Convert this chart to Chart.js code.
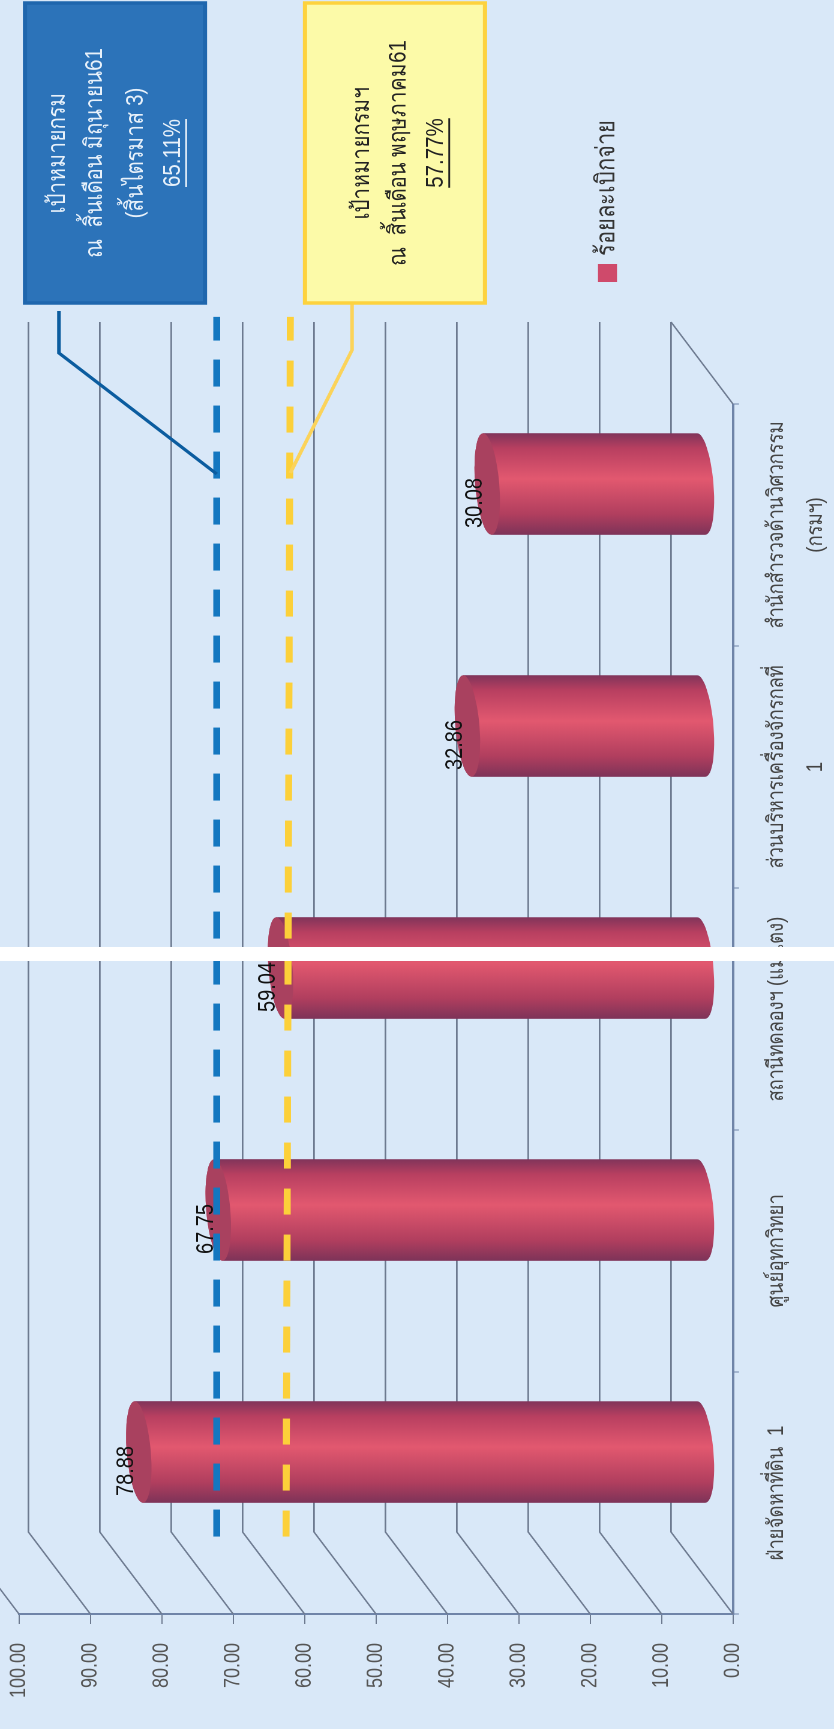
<!DOCTYPE html>
<html>
<head>
<meta charset="utf-8">
<title>ร้อยละเบิกจ่าย</title>
<script src="https://cdn.jsdelivr.net/npm/chart.js@4/dist/chart.umd.min.js"></script>
<style>
  html, body { margin: 0; padding: 0; background: #d9e8f8; }
  body { position: relative; width: 834px; height: 1729px; overflow: hidden; }
  /* the sheet was scanned on its side and a bit stretched, so the whole chart is turned */
  #turned { position: absolute; left: 0; top: 0; width: 1729px; height: 695px;
            transform-origin: 0 0; transform: translate(0, 1729px) rotate(-90deg) scale(1, 1.2); }
  #scanGap { position: absolute; left: 0; top: 947px; width: 834px; height: 14px; background: #fff; }
</style>
</head>
<body>
<div id="turned"><canvas id="budgetChart" width="1729" height="695"></canvas></div>
<div id="scanGap"></div>
<script>
const categories = [
  "ฝ่ายจัดหาที่ดิน  1",
  "ศูนย์อุทกวิทยา",
  "สถานีทดลองฯ (แม่แตง)",
  ["ส่วนบริหารเครื่องจักรกลที่", "1"],
  ["สำนักสำรวจด้านวิศวกรรม", "(กรมฯ)"],
]
const disbursed = [78.88, 67.75, 59.04, 32.86, 30.08]
const seriesName = "ร้อยละเบิกจ่าย"

// target lines were laid by hand on the sheet, so they sit above their stated numbers
const blueTarget = [{ x: 0.32, y: 72.3 }, { x: 5.36, y: 72.3 }]
const yellowTarget = [{ x: 0.32, y: 62.6 }, { x: 5.36, y: 62.0 }]
const blueBoxLines = ["เป้าหมายกรม", "ณ  สิ้นเดือน มิถุนายน61", "(สิ้นไตรมาส 3)", "65.11%"]
const yellowBoxLines = ["เป้าหมายกรมฯ", "ณ  สิ้นเดือน พฤษภาคม61", "57.77%"]

const FONT = "'Liberation Sans', 'Noto Sans', sans-serif"
const STRETCH = 1.2
const DEPTH_X = 82
const DEPTH_Y = -62 / STRETCH

// page-space distance across the chart -> canvas distance
const sy = (v) => v / STRETCH

function drawBox(ctx, x, y, w, h, fill, stroke, lines, lineYs, color) {
  ctx.fillStyle = fill
  ctx.strokeStyle = stroke
  ctx.lineWidth = 3.5
  ctx.fillRect(x, sy(y), w, sy(h))
  ctx.strokeRect(x, sy(y), w, sy(h))
  ctx.fillStyle = color
  ctx.font = "20.5px " + FONT
  ctx.textAlign = "center"
  ctx.textBaseline = "middle"
  lines.forEach((line, i) => {
    ctx.fillText(line, x + w / 2, sy(lineYs[i]))
  })
  // last line (the percentage) is underlined
  const last = lines[lines.length - 1]
  const half = ctx.measureText(last).width / 2
  const uy = sy(lineYs[lines.length - 1]) + 11
  ctx.strokeStyle = color
  ctx.lineWidth = 1.5
  ctx.beginPath()
  ctx.moveTo(x + w / 2 - half, uy)
  ctx.lineTo(x + w / 2 + half, uy)
  ctx.stroke()
}

function polyline(ctx, pts, color, width) {
  ctx.strokeStyle = color
  ctx.lineWidth = width
  ctx.beginPath()
  pts.forEach((p, i) => (i ? ctx.lineTo(p[0], p[1]) : ctx.moveTo(p[0], p[1])))
  ctx.stroke()
}

const wallPlugin = {
  id: "wall",
  // diagonal floor lines and back wall grid
  beforeDatasetsDraw(chart) {
    const { ctx, scales } = chart
    const left = scales.x.left
    const right = scales.x.right
    ctx.save()
    ctx.strokeStyle = "#6d7a90"
    ctx.lineWidth = 1.3
    scales.y.ticks.forEach((t) => {
      const py = scales.y.getPixelForValue(t.value)
      ctx.beginPath()
      ctx.moveTo(left, py)
      ctx.lineTo(left + DEPTH_X, py + DEPTH_Y)
      ctx.lineTo(right + DEPTH_X, py + DEPTH_Y)
      ctx.stroke()
    })
    ctx.beginPath()
    ctx.moveTo(right, scales.y.getPixelForValue(0))
    ctx.lineTo(right + DEPTH_X, scales.y.getPixelForValue(0) + DEPTH_Y)
    ctx.stroke()

    // cylinders, placed from the bar elements
    chart.getDatasetMeta(0).data.forEach((bar) => {
      const cx = bar.x + DEPTH_X / 2
      const top = bar.y + DEPTH_Y / 2
      const base = bar.base + DEPTH_Y / 2
      const rx = bar.width / 2
      const ry = sy(12)
      const tilt = -0.07
      const lean = sy(4)

      const body = ctx.createLinearGradient(cx - rx, 0, cx + rx, 0)
      body.addColorStop(0, "#7d3358")
      body.addColorStop(0.2, "#b03e5e")
      body.addColorStop(0.55, "#e2586f")
      body.addColorStop(0.85, "#b83f60")
      body.addColorStop(1, "#80345a")
      ctx.fillStyle = body
      ctx.beginPath()
      ctx.moveTo(cx - rx, top + lean)
      ctx.lineTo(cx - rx, base + lean)
      ctx.ellipse(cx, base, rx, ry, tilt, Math.PI, 0, true)
      ctx.lineTo(cx + rx, top - lean)
      ctx.ellipse(cx, top, rx, ry, tilt, 0, Math.PI, true)
      ctx.closePath()
      ctx.fill()

      ctx.fillStyle = "#a9415f"
      ctx.beginPath()
      ctx.ellipse(cx, top, rx, ry, tilt, 0, Math.PI * 2)
      ctx.fill()
    })
    ctx.restore()
  },
  afterDatasetsDraw(chart) {
    const { ctx, scales } = chart
    ctx.save()
    // value labels
    ctx.fillStyle = "#111"
    ctx.font = "20px " + FONT
    ctx.textAlign = "center"
    ctx.textBaseline = "middle"
    chart.getDatasetMeta(0).data.forEach((bar, i) => {
      ctx.fillText(disbursed[i].toFixed(2), bar.x + DEPTH_X / 2 - 19, bar.y + DEPTH_Y / 2 - sy(12))
    })

    // leaders from the note boxes down to the target lines
    const blueY = scales.y.getPixelForValue(blueTarget[0].y)
    const yellowY = scales.y.getPixelForValue(yellowTarget[1].y)
    polyline(ctx, [[1418, sy(59)], [1376, sy(59)], [1255, blueY]], "#0b5c9f", 3)
    polyline(ctx, [[1425, sy(352)], [1379, sy(352)], [1256, yellowY]], "#fbd35a", 3)

    drawBox(ctx, 1426, 25, 300, 180, "#2c73b9", "#1f66ad", blueBoxLines, [58, 95, 136, 173], "#e8f1fa")
    drawBox(ctx, 1426, 305, 300, 180, "#fcfaa8", "#fdd23e", yellowBoxLines, [362, 399, 436], "#222")

    // legend
    ctx.fillStyle = "#cf4a6b"
    ctx.fillRect(1447, sy(598), 18, sy(19))
    ctx.fillStyle = "#333"
    ctx.font = "22px " + FONT
    ctx.textAlign = "left"
    ctx.fillText(chart.data.datasets[0].label, 1473, sy(607))
    ctx.restore()
  },
}

new Chart(document.getElementById("budgetChart"), {
  type: "bar",
  data: {
    labels: categories,
    datasets: [
      {
        label: seriesName,
        data: disbursed,
        backgroundColor: "transparent",
        grouped: false,
        barPercentage: 0.42,
        categoryPercentage: 1,
        order: 2,
      },
      {
        type: "line",
        data: blueTarget,
        xAxisID: "xt",
        borderColor: "#1477c0",
        borderWidth: 5.8,
        borderDash: [27, 19],
        pointRadius: 0,
        clip: false,
        order: 1,
      },
      {
        type: "line",
        data: yellowTarget,
        xAxisID: "xt",
        borderColor: "#fcd03a",
        borderWidth: 5.8,
        borderDash: [26, 20],
        pointRadius: 0,
        clip: false,
        order: 1,
      },
    ],
  },
  options: {
    responsive: false,
    animation: false,
    devicePixelRatio: 2,
    layout: { padding: { left: 0, right: 404, top: 19 / STRETCH, bottom: 0 } },
    plugins: { legend: { display: false }, tooltip: { enabled: false } },
    scales: {
      x: {
        offset: true,
        afterFit: (s) => { s.height = 101 / STRETCH },
        border: { color: "#6f84a8", width: 2 },
        grid: { offset: true, drawOnChartArea: false, tickLength: 5, color: "#6f84a8" },
        ticks: {
          color: "#444",
          font: { family: FONT, size: 18.7, lineHeight: 1.74 },
          padding: 15,
          maxRotation: 0,
          autoSkip: false,
        },
      },
      xt: { type: "linear", min: 0, max: 5, display: false, offset: false },
      y: {
        min: 0,
        max: 100,
        afterFit: (s) => {
          s.width = 115
          s.paddingTop = 0
          s.paddingBottom = 0
        },
        border: { color: "#6f84a8", width: 2 },
        grid: { drawOnChartArea: false, tickLength: 10, color: "#6d7a90" },
        ticks: {
          stepSize: 10,
          color: "#555",
          font: { family: FONT, size: 18 },
          padding: 19,
          callback: (v) => v.toFixed(2),
        },
      },
    },
  },
  plugins: [wallPlugin],
})
</script>
</body>
</html>
